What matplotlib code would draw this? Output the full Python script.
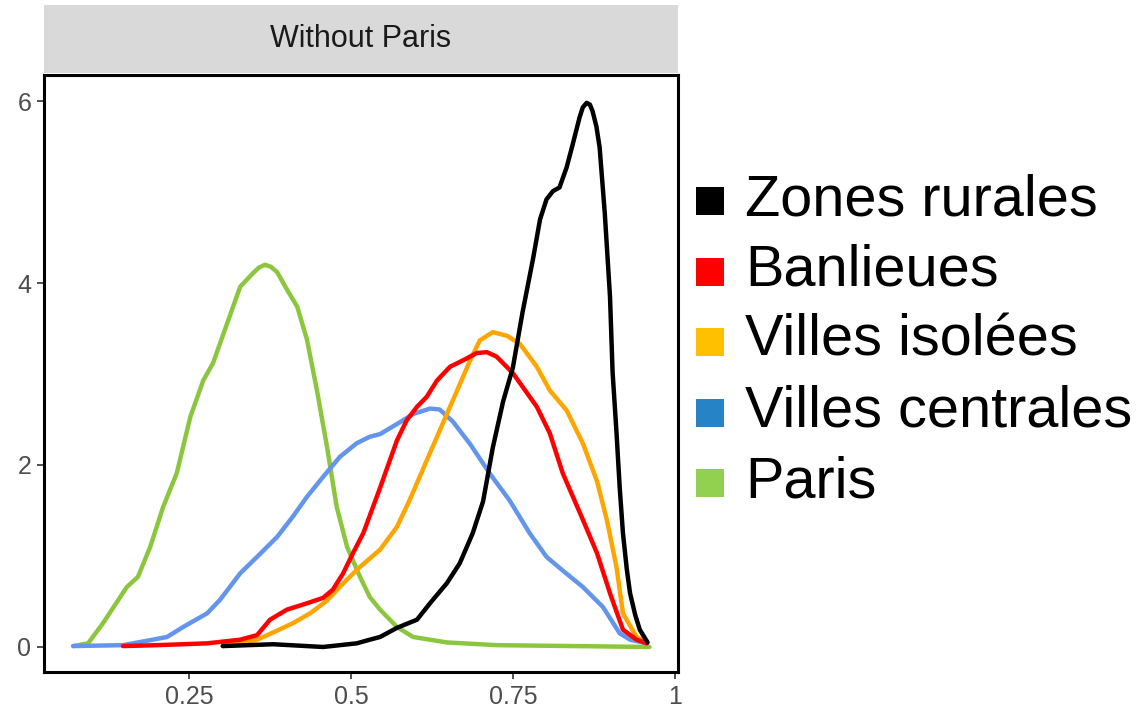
import matplotlib.pyplot as plt
from matplotlib.patches import Rectangle
from matplotlib import font_manager

# density curves, read as (share, density) pairs
x_rural = [0.302, 0.380, 0.457, 0.509, 0.529, 0.545, 0.571, 0.602, 0.622, 0.648, 0.668, 0.688,
           0.704, 0.719, 0.735, 0.750, 0.765, 0.781, 0.792, 0.802, 0.812, 0.822, 0.833, 0.843,
           0.853, 0.858, 0.864, 0.869, 0.873, 0.879, 0.884, 0.892, 0.900, 0.904, 0.910, 0.915,
           0.920, 0.926, 0.931, 0.939, 0.946, 0.958]
y_rural = [0.01, 0.03, 0.00, 0.04, 0.08, 0.11, 0.21, 0.30, 0.48, 0.70, 0.92, 1.25,
           1.60, 2.19, 2.70, 3.07, 3.68, 4.26, 4.70, 4.92, 5.01, 5.05, 5.27, 5.54,
           5.82, 5.93, 5.98, 5.96, 5.89, 5.72, 5.49, 4.76, 3.85, 3.02, 2.36, 1.75,
           1.25, 0.85, 0.59, 0.35, 0.19, 0.05]

x_banl = [0.148, 0.201, 0.278, 0.329, 0.355, 0.375, 0.401, 0.432, 0.457, 0.472, 0.488, 0.503,
          0.519, 0.545, 0.571, 0.586, 0.602, 0.617, 0.633, 0.653, 0.673, 0.694, 0.710, 0.725,
          0.750, 0.787, 0.807, 0.827, 0.858, 0.880, 0.900, 0.920, 0.941, 0.957]
y_banl = [0.01, 0.02, 0.04, 0.08, 0.13, 0.30, 0.41, 0.48, 0.54, 0.63, 0.81, 1.03,
          1.25, 1.75, 2.27, 2.49, 2.64, 2.75, 2.93, 3.08, 3.15, 3.23, 3.24, 3.19,
          3.01, 2.64, 2.35, 1.91, 1.40, 1.03, 0.59, 0.19, 0.08, 0.04]

x_isol = [0.302, 0.355, 0.380, 0.410, 0.437, 0.463, 0.488, 0.514, 0.545, 0.571, 0.591, 0.617,
          0.642, 0.664, 0.684, 0.699, 0.719, 0.741, 0.761, 0.787, 0.807, 0.833, 0.858, 0.880,
          0.895, 0.910, 0.920, 0.941, 0.957]
y_isol = [0.01, 0.08, 0.16, 0.26, 0.37, 0.51, 0.70, 0.88, 1.07, 1.32, 1.62, 2.05,
          2.46, 2.82, 3.15, 3.37, 3.46, 3.42, 3.33, 3.08, 2.82, 2.60, 2.24, 1.82,
          1.40, 0.88, 0.37, 0.11, 0.05]

x_cent = [0.071, 0.148, 0.194, 0.216, 0.241, 0.278, 0.298, 0.329, 0.355, 0.386, 0.410, 0.432,
          0.457, 0.483, 0.509, 0.529, 0.545, 0.571, 0.596, 0.622, 0.637, 0.657, 0.684, 0.715,
          0.745, 0.776, 0.802, 0.827, 0.858, 0.889, 0.915, 0.931, 0.957]
y_cent = [0.01, 0.02, 0.08, 0.11, 0.22, 0.37, 0.52, 0.81, 0.99, 1.21, 1.43, 1.65,
          1.87, 2.09, 2.24, 2.31, 2.34, 2.45, 2.56, 2.62, 2.61, 2.48, 2.23, 1.90,
          1.61, 1.25, 0.99, 0.84, 0.66, 0.44, 0.15, 0.08, 0.04]

x_paris = [0.071, 0.094, 0.117, 0.154, 0.171, 0.190, 0.210, 0.231, 0.252, 0.272, 0.287, 0.309,
           0.329, 0.349, 0.358, 0.367, 0.376, 0.386, 0.401, 0.417, 0.432, 0.448, 0.463, 0.478,
           0.494, 0.514, 0.529, 0.545, 0.571, 0.596, 0.648, 0.725, 0.961]
y_paris = [0.01, 0.04, 0.26, 0.66, 0.77, 1.10, 1.54, 1.91, 2.53, 2.93, 3.12, 3.56,
           3.96, 4.11, 4.17, 4.20, 4.18, 4.12, 3.93, 3.74, 3.38, 2.80, 2.20, 1.54,
           1.10, 0.77, 0.55, 0.41, 0.22, 0.11, 0.05, 0.02, 0.00]

labels = ["Zones rurales", "Banlieues", "Villes isolées", "Villes centrales", "Paris"]
line_colors = ["black", "#ff0000", "#ffa500", "#6495ed", "#8cc63f"]
key_colors = ["black", "#ff0000", "#ffc000", "#2683c6", "#92d050"]
series = [(x_rural, y_rural), (x_banl, y_banl), (x_isol, y_isol),
          (x_cent, y_cent), (x_paris, y_paris)]

x_ticks = [0.25, 0.5, 0.75, 1]
x_ticklabels = ["0.25", "0.5", "0.75", "1"]
y_ticks = [0, 2, 4, 6]

narrow = ["Liberation Sans Narrow", "Liberation Sans", "DejaVu Sans"]
avail = {f.name for f in font_manager.fontManager.ttflist}
narrow = [f for f in narrow if f in avail]

W, H = 1142, 720
fig = plt.figure(figsize=(W / 100, H / 100), dpi=100)

# panel box in pixels: left 44, right 678, top 75, bottom 672
ax = fig.add_axes([44 / W, 1 - 672 / H, 634 / W, 597 / H])
# draw back to front so the black curve sits on top
for (xs, ys), c in list(zip(series, line_colors))[::-1]:
    ax.plot(xs, ys, color=c, lw=3.2, solid_capstyle="round", solid_joinstyle="round")

ax.set_xlim(0.026, 1.005)
ax.set_ylim(-0.275, 6.286)
ax.set_xticks(x_ticks)
ax.set_xticklabels(x_ticklabels)
ax.set_yticks(y_ticks)
for s in ax.spines.values():
    s.set_linewidth(2.2)
    s.set_color("black")
ax.tick_params(direction="out", length=5, width=1.2, color="#333333",
               labelcolor="#4d4d4d", labelsize=18, pad=4)
for t in ax.get_xticklabels() + ax.get_yticklabels():
    t.set_family(narrow)

# facet strip on top of the panel
strip = fig.add_axes([44 / W, 1 - 73 / H, 634 / W, 68 / H])
strip.set_facecolor("#d9d9d9")
strip.set_xticks([])
strip.set_yticks([])
for s in strip.spines.values():
    s.set_visible(False)
strip.text(0.5, 0.5, "Without Paris", ha="center", va="center", fontsize=22,
           color="#1a1a1a", family=narrow, transform=strip.transAxes)

# key on the right: colour squares and large labels
for i, (lab, c) in enumerate(zip(labels, key_colors)):
    base = 215 + i * 70.5
    fig.add_artist(Rectangle((696 / W, 1 - base / H), 28 / W, 28 / H,
                             transform=fig.transFigure, facecolor=c, edgecolor="none"))
    fig.text(745 / W, 1 - base / H, lab, ha="left", va="baseline", fontsize=41.5,
             family="Liberation Sans", color="black")

fig.savefig("out.png", dpi=100)
